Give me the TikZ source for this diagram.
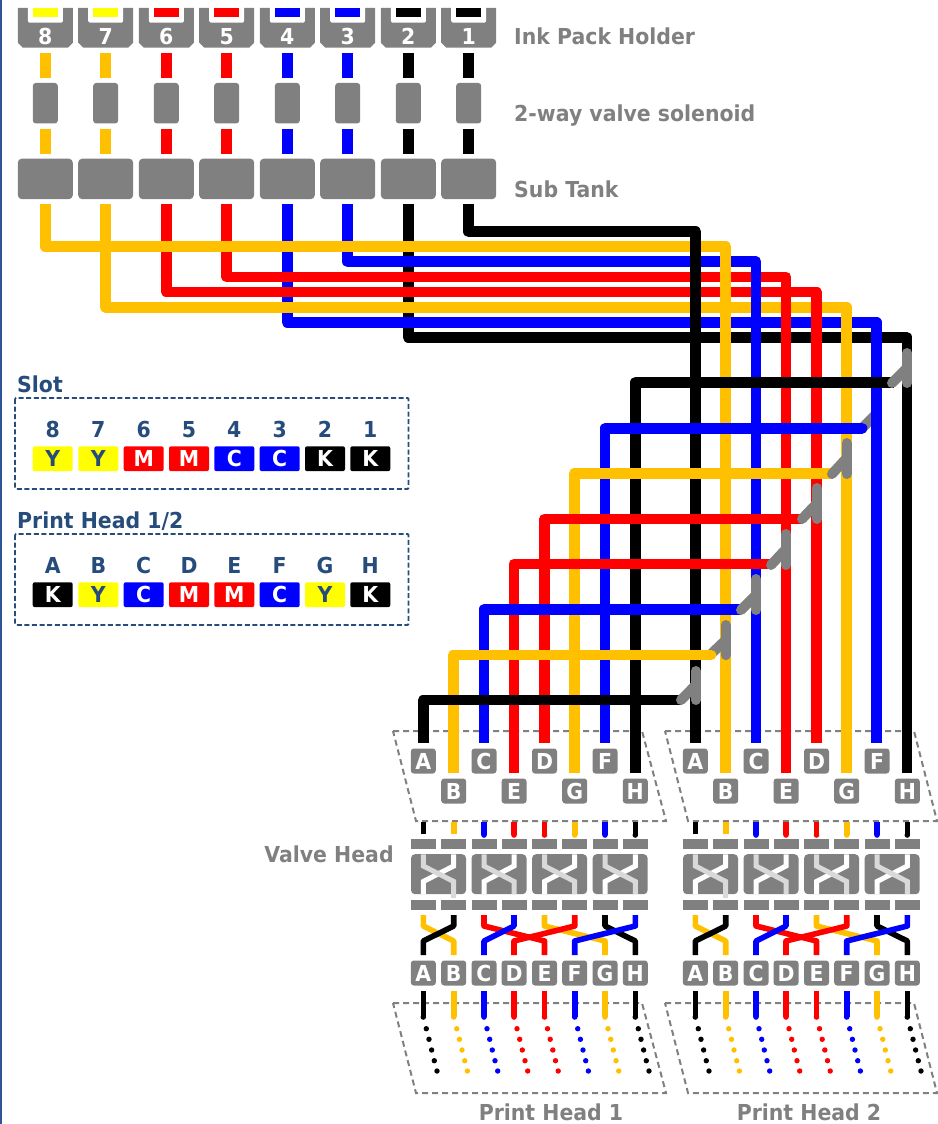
\documentclass[tikz,border=0pt]{standalone}
\usepackage{fontspec}
\setmainfont{DejaVu Sans}[FakeStretch=0.93]
\definecolor{cK}{HTML}{000000}
\definecolor{cY}{HTML}{FFC000}
\definecolor{cC}{HTML}{0000FF}
\definecolor{cM}{HTML}{FF0000}
\definecolor{lemon}{HTML}{FFFF00}
\definecolor{gr}{HTML}{808080}
\definecolor{lgr}{HTML}{D9D9D9}
\definecolor{navy}{HTML}{264C7C}
\definecolor{edge}{HTML}{2F5597}
\newcommand{\labfont}{\fontsize{22}{22}\selectfont\bfseries}
\tikzset{
  wire/.style={line width=10.8pt,line join=round,line cap=butt},
  thin wire/.style={line width=5.6pt,line join=round,line cap=butt},
  branch/.style={gr,line width=10pt,line cap=round},
  glyph/.style={text height=16pt,text depth=0pt,inner sep=0pt},
  box/.style={glyph,fill=gr,rounded corners=3pt,minimum width=25pt,minimum height=25pt,text=white,font=\labfont},
  bar/.style={fill=gr,inner sep=0pt,minimum width=25pt,minimum height=10pt},
  valve/.style={fill=gr,rounded corners=3pt,inner sep=0pt,minimum width=25pt,minimum height=40.5pt},
  tank/.style={fill=gr,rounded corners=4pt,inner sep=0pt,minimum width=55pt,minimum height=40.5pt},
  block/.style={fill=gr,rounded corners=4pt,inner sep=0pt,minimum width=55pt,minimum height=40pt},
  frame/.style={gr,line width=2pt,dash pattern=on 6pt off 4pt},
  legend/.style={navy,line width=1.8pt,dash pattern=on 5pt off 2.6pt,rounded corners=1pt},
  title/.style={text=gr,font=\labfont,inner sep=0pt,anchor=base west},
  ltitle/.style={text=navy,font=\labfont,inner sep=0pt,anchor=base west},
  lhead/.style={glyph,text=navy,font=\labfont},
  cell/.style={glyph,rounded corners=2pt,minimum width=40pt,minimum height=24.8pt,font=\labfont},
}
\begin{document}
\begin{tikzpicture}[x=1pt,y=-1pt]
\useasboundingbox (0,0) rectangle (937,1124);
\fill[edge] (0,0) rectangle (1.6,1124);

% ---------- ink columns
\foreach \n/\x/\c/\tc in {8/45.3/cY/lemon,7/105.7/cY/lemon,6/166.3/cM/cM,5/226.7/cM/cM,4/287.3/cC/cC,3/347.7/cC/cC,2/408.3/cK/cK,1/468.7/cK/cK}{
  \fill[gr] (\x-27.5,7.8) -- (\x+27.5,7.8) -- (\x+27.5,42.7) -- (\x+22.5,47.7) -- (\x-22.5,47.7) -- (\x-27.5,42.7) -- cycle;
  \fill[white,rounded corners=1.5pt] (\x-17.5,6) rectangle (\x+17.5,22.7);
  \fill[\tc] (\x-12.5,7.8) rectangle (\x+12.5,17.3);
  \node[glyph,text=white,font=\labfont] (h\n) at (\x,37) {\n};
  \coordinate (a\n) at (\x,53);
  \coordinate (b\n) at (\x,78);
  \coordinate (c\n) at (\x,128.7);
  \coordinate (d\n) at (\x,153.7);
  \coordinate (e\n) at (\x,204);
  \draw[wire,\c] (a\n) -- (b\n);
  \node[valve] (v\n) at (\x,103.2) {};
  \draw[wire,\c] (c\n) -- (d\n);
  \node[tank] (t\n) at (\x,178.9) {};
}
\node[title] (t1l) at (514,45) {Ink Pack Holder};
\node[title] (t2l) at (514,121) {2-way valve solenoid};
\node[title] (t3l) at (514,197) {Sub Tank};

% ---------- dashed frames
\draw[frame] (393,731) -- (642,731) -- (666,821) -- (416,821) -- cycle;
\draw[frame] (665,731) -- (914,731) -- (937,821) -- (688,821) -- cycle;
\draw[frame] (393,1003) -- (642,1003) -- (666,1093) -- (416,1093) -- cycle;
\draw[frame] (665,1003) -- (914,1003) -- (937,1093) -- (688,1093) -- cycle;

% ---------- hidden branch of right blue
\draw[branch] (862,428.3) -- (876.7,413.5);

% ---------- main feeds
\coordinate (f2) at (907,773);
\coordinate (f4) at (876.7,743);
\coordinate (f7) at (846.7,773);
\coordinate (f6) at (816.7,743);
\coordinate (f5) at (786,773);
\coordinate (f3) at (756,743);
\coordinate (f8) at (725.7,773);
\coordinate (f1) at (695.7,743);
\draw[wire,cK] (e2) |- (f2 |- 0,337.3) -- (f2);
\draw[wire,cC] (e4) |- (f4 |- 0,322.3) -- (f4);
\draw[wire,cY] (e7) |- (f7 |- 0,307.3) -- (f7);
\draw[wire,cM] (e6) |- (f6 |- 0,292) -- (f6);
\draw[wire,cM] (e5) |- (f5 |- 0,277) -- (f5);
\draw[wire,cC] (e3) |- (f3 |- 0,261.7) -- (f3);
\draw[wire,cY] (e8) |- (f8 |- 0,246.7) -- (f8);
\draw[wire,cK] (e1) |- (f1 |- 0,231.7) -- (f1);

% ---------- head-side branches
\coordinate (g8) at (635.7,773);
\coordinate (g7) at (605,743);
\coordinate (g6) at (574.3,773);
\coordinate (g5) at (544.5,743);
\coordinate (g4) at (514,773);
\coordinate (g3) at (484,743);
\coordinate (g2) at (453.3,773);
\coordinate (g1) at (423.3,743);
\draw[wire,cK] (894,382.3) -| (g8);
\draw[wire,cC] (860,428.3) -| (g7);
\draw[wire,cC,line cap=round] (860,428.3) -- (862,428.3);
\draw[wire,cY] (832,473.7) -| (g6);
\draw[wire,cM] (803,519) -| (g5);
\draw[wire,cM] (772,564) -| (g4);
\draw[wire,cC] (741,609.3) -| (g3);
\draw[branch] (710,655) -- (725.7,640);
\draw[wire,cY] (710,655) -| (g2);
\draw[wire,cY,line cap=round] (710,655) -- (711,655);
\draw[wire,cK] (682,700) -| (g1);

% ---------- grey branches
\foreach \x/\ya/\yb/\yd/\xd in {907/353/383/368/892,846.7/443/474/458/832,816.7/488/519/503.5/802,786/534/565/549/771,756/579/610/595/741,725.7/625/655/640/725.7,695.7/671/700/685/681}{
  \draw[branch] (\x,\ya) -- (\x,\yb);
  \draw[branch] (\xd,\yb) -- (\x,\yd);
}

% ---------- two head groups
\foreach \dx/\pn/\px in {0/1/551,272/2/809}{
\begin{scope}[shift={(\dx,0)}]
  \foreach \l/\x/\y in {A/423.3/761,C/484/761,D/544.5/761,F/605/761,B/453.7/791,E/514/791,G/574.7/791,H/635.3/791}{
    \node[box] (u\l\pn) at (\x,\y) {\l};
  }
  \draw[thin wire,cK] (423.3,822) -- (423.3,834);
  \draw[thin wire,cY] (453.7,822) -- (453.7,834);
  \foreach \x/\c in {484/cC,514/cM,544.5/cM,574.7/cY,605/cC,635.3/cK}{
    \draw[thin wire,\c] (\x,822) -- (\x,835);
    \fill[\c] (\x,835) circle (2.8);
  }
  \foreach \x in {423.3,453.7,484,514,544.5,574.7,605,635.3}{
    \node[bar] at (\x,844.3) {};
    \node[bar] at (\x,904.7) {};
  }
  \foreach \xl/\xr/\yend in {423.3/453.7/898,484/514/894,544.5/574.7/894,605/635.3/894}{
    \node[block] at ({(\xl+\xr)/2},874.2) {};
    \draw[white,line width=5pt] (\xl,894) -- (\xl,881.5) -- (\xr,866) -- (\xr,854.3);
    \draw[lgr,line width=5pt] (\xl,854.3) -- (\xl,866) -- (\xr,881.5) -- (\xr,\yend);
  }
  \draw[thin wire,cY] (423.3,915) -- (423.3,926) -- (453.7,941) -- (453.7,955);
  \draw[thin wire,cK] (453.7,915) -- (453.7,926) -- (423.3,941) -- (423.3,955);
  \draw[thin wire,cY] (544.5,915) -- (544.5,926) -- (605,941) -- (605,955);
  \draw[thin wire,cM] (484,915) -- (484,926) -- (544.5,941) -- (544.5,955);
  \draw[thin wire,cM] (574.7,915) -- (574.7,926) -- (514,941) -- (514,955);
  \draw[thin wire,cC] (514,915) -- (514,926) -- (484,941) -- (484,955);
  \draw[thin wire,cK] (605,915) -- (605,926) -- (635.3,941) -- (635.3,955);
  \draw[thin wire,cC] (635.3,915) -- (635.3,926) -- (574.7,941) -- (574.7,955);
  \foreach \l/\x/\c in {A/423.3/cK,B/453.7/cY,C/484/cC,D/514/cM,E/544.5/cM,F/574.7/cC,G/605/cY,H/635.3/cK}{
    \node[box] (l\l\pn) at (\x,973) {\l};
    \coordinate (n\l\pn) at (\x,991);
    \draw[thin wire,\c] (n\l\pn) -- (\x,1017);
    \fill[\c] (\x,1017) circle (2.8);
    \foreach \dotx/\doty in {3/1028.7,5.7/1039.3,8.3/1050,11/1060.7,13.7/1071}{
      \fill[\c] (\x+\dotx,\doty) circle (2.7);
    }
  }
\end{scope}
\node[glyph,text=gr,font=\labfont] (ph\pn) at (\px,1112) {Print Head \pn};
}
\node[glyph,text=gr,font=\labfont] (vh) at (329,854) {Valve Head};

% ---------- legends
\node[ltitle] (sl) at (17,392.5) {Slot};
\draw[legend] (15,398) rectangle (408.5,489);
\foreach \t/\x/\l/\bg/\fg in {8/52.7/Y/lemon/navy,7/98.3/Y/lemon/navy,6/143.7/M/cM/white,5/189/M/cM/white,4/234.3/C/cC/white,3/279.7/C/cC/white,2/325/K/cK/white,1/370.3/K/cK/white}{
  \node[lhead] (st\t) at (\x,429) {\t};
  \node[cell,fill=\bg,text=\fg] (sc\t) at (\x,458.7) {\l};
}
\node[ltitle] (pl) at (17,528) {Print Head 1/2};
\draw[legend] (15,534) rectangle (408.5,625);
\foreach \t/\x/\l/\bg/\fg in {A/52.7/K/cK/white,B/98.3/Y/lemon/navy,C/143.7/C/cC/white,D/189/M/cM/white,E/234.3/M/cM/white,F/279.7/C/cC/white,G/325/Y/lemon/navy,H/370.3/K/cK/white}{
  \node[lhead] (pt\t) at (\x,565) {\t};
  \node[cell,fill=\bg,text=\fg] (pc\t) at (\x,594.7) {\l};
}
\end{tikzpicture}
\end{document}
